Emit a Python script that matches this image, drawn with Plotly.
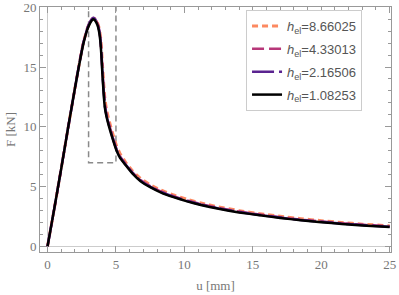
import plotly.graph_objects as go

# ---------------- data ----------------
labels = ["8.66025", "4.33013", "2.16506", "1.08253"]
colors = ["#fc8961", "#b73779", "#5a2390", "#000000"]

u_vals = [0, 0.5, 1.0, 1.5, 2.0, 2.3, 2.6, 2.9, 3.1, 3.25, 3.34, 3.45, 3.55, 3.65, 3.75,
          3.82, 3.88, 3.94, 4.01, 4.1, 4.19, 4.3, 4.45, 4.6, 4.8, 5.05, 5.3, 5.7, 6.2, 6.8,
          7.5, 8.3, 9.2, 10.2, 11.2, 12.5, 14, 15.5, 17, 18.5, 20, 21.5, 23, 25]

F_black = [0, 3.2, 6.5, 9.9, 13.2, 15.1, 16.85, 18.1, 18.65, 18.92, 19.0, 18.92, 18.75, 18.5, 18.05,
           17.55, 16.9, 15.9, 14.4, 12.8, 11.6, 10.9, 10.2, 9.6, 8.85, 8.0, 7.4, 6.8, 6.1, 5.45,
           4.95, 4.5, 4.12, 3.76, 3.46, 3.14, 2.84, 2.6, 2.38, 2.18, 2.02, 1.88, 1.75, 1.62]

F_purple = [0, 3.2, 6.5, 9.9, 13.2, 15.15, 16.95, 18.2, 18.75, 19.03, 19.12, 19.05, 18.88, 18.62, 18.2,
            17.75, 17.1, 16.1, 14.6, 13.0, 11.75, 11.0, 10.3, 9.7, 8.92, 8.07, 7.46, 6.86, 6.15, 5.5,
            5.0, 4.55, 4.16, 3.8, 3.5, 3.18, 2.88, 2.63, 2.41, 2.21, 2.05, 1.91, 1.78, 1.65]

F_magenta = [0, 3.2, 6.5, 9.9, 13.2, 15.15, 16.95, 18.2, 18.75, 19.02, 19.1, 19.05, 18.9, 18.65, 18.25,
             17.8, 17.2, 16.25, 14.8, 13.2, 11.9, 11.1, 10.4, 9.8, 9.0, 8.13, 7.52, 6.9, 6.2, 5.55,
             5.04, 4.59, 4.2, 3.84, 3.54, 3.21, 2.91, 2.66, 2.44, 2.24, 2.08, 1.94, 1.81, 1.68]

F_orange = [0, 3.2, 6.5, 9.9, 13.2, 15.15, 16.95, 18.2, 18.75, 19.0, 19.08, 19.05, 18.92, 18.7, 18.35,
            17.95, 17.45, 16.6, 15.3, 13.7, 12.4, 11.5, 10.75, 10.1, 9.3, 8.4, 7.75, 7.05, 6.32, 5.68,
            5.15, 4.7, 4.3, 3.93, 3.63, 3.3, 2.99, 2.74, 2.52, 2.32, 2.15, 2.0, 1.86, 1.72]

dashes = ["6px,4px", "12px,5px", "22px,5px", "solid"]
widths = [3, 2.5, 2.5, 2.5]

box_u = [3, 3, 5, 5]
box_F = [20.5, 7, 7, 20.5]

x_ticks = [0, 5, 10, 15, 20, 25]
y_ticks = [0, 5, 10, 15, 20]

series = [F_orange, F_magenta, F_purple, F_black]

fig = go.Figure()

fig.add_trace(go.Scatter(x=box_u, y=box_F, mode="lines", showlegend=False,
                         line=dict(color="#8a8a8a", width=1.5, dash="6px,4px"),
                         hoverinfo="skip"))

for ff, lab, col, dsh, w in zip(series, labels, colors, dashes, widths):
    fig.add_trace(go.Scatter(x=u_vals, y=ff, mode="lines", legendgroup=lab,
                             name="<i>h</i><sub>el</sub>=" + lab,
                             line=dict(color=col, width=w, dash=dsh, shape="spline", smoothing=0.4)))

serif = "Liberation Serif, Times New Roman, serif"
axis_common = dict(
    showgrid=False, ticks="inside", ticklen=6, tickwidth=1, tickcolor="#999999",
    showline=True, linecolor="#999999", linewidth=1, mirror="allticks",
    zeroline=True, zerolinecolor="#cccccc", zerolinewidth=1.2, automargin=False,
    ticklabeloverflow="allow",
    tickfont=dict(family=serif, size=13, color="#777777"),
    minor=dict(ticks="inside", ticklen=3, tickcolor="#999999", dtick=1, showgrid=False),
)

fig.update_xaxes(range=[-0.55, 25.1], tickvals=x_ticks, **axis_common,
                 title=dict(text="u [mm]", standoff=10,
                            font=dict(family=serif, size=13, color="#777777")))
fig.update_yaxes(range=[-0.47, 20.02], tickvals=y_ticks, **axis_common,
                 title=dict(text="F [kN]", standoff=4,
                            font=dict(family=serif, size=13, color="#777777")))

fig.update_layout(
    width=399, height=295,
    margin=dict(l=40, r=8, t=7, b=43),
    paper_bgcolor="white", plot_bgcolor="white",
    legend=dict(x=0.587, y=0.988, xanchor="left", yanchor="top",
                bgcolor="white", bordercolor="#cccccc", borderwidth=1,
                font=dict(family="Liberation Sans, Arial, sans-serif", size=13, color="#555555"),
                tracegroupgap=3),
    showlegend=True,
)

fig.write_html("out.html", config={"displayModeBar": False},
               post_script="document.body.style.margin='0px';")
